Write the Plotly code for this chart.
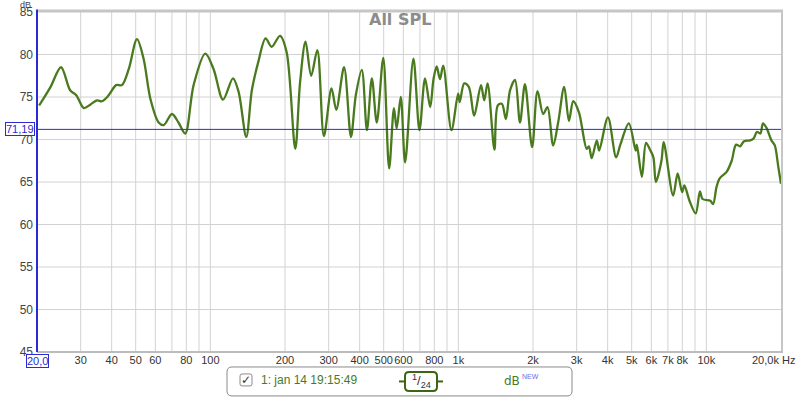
import plotly.graph_objects as go
import math

# ---- data ----
freq_hz = [20.4, 22.6, 25.0, 27.2, 28.8, 30.9, 32.8, 34.9, 36.6, 38.9, 41.7, 44.0, 46.9, 50.6, 53.8,
           57.3, 61.9, 64.9, 70.0, 74.4, 79.2, 85.6, 95.4, 103, 112.5, 123.4, 130, 139.6, 147, 156,
           167, 176.6, 191, 203, 220, 230, 242, 255, 270, 287, 308, 322, 346, 369, 386, 408, 428,
           448, 469, 498, 526, 550, 564, 586, 610, 659, 697, 734, 770, 794, 818, 843, 869, 938,
           998, 1013, 1056, 1102, 1158, 1234, 1272, 1312, 1398, 1442, 1498, 1554, 1617, 1693, 1772,
           1856, 1984, 2086, 2198, 2288, 2412, 2526, 2672, 2792, 2906, 3064, 3292, 3360, 3450, 3616,
           3696, 4010, 4328, 4500, 4870, 5190, 5246, 5498, 5712, 5928, 6116, 6258, 6592, 6728, 7348,
           7662, 7986, 8156, 8550, 9060, 9420, 9652, 10374, 10646, 10990, 11300, 12072, 12652, 13180,
           13672, 14192, 15028, 15496, 15998, 16508, 16920, 17460, 18300, 18880, 19480, 20000]
spl_db = [74.0, 76.1, 78.5, 75.8, 75.2, 73.7, 74.1, 74.6, 74.5, 75.2, 76.4, 76.4, 78.3, 81.8, 79.5,
          74.8, 72.0, 71.7, 73.0, 72.0, 70.7, 76.4, 80.1, 78.3, 74.7, 77.2, 75.6, 70.3, 75.8, 79.1,
          81.9, 80.9, 82.2, 80.3, 68.9, 76.7, 81.5, 77.5, 80.5, 70.4, 76.0, 73.5, 78.5, 70.3, 75.2, 78.2, 71.1,
          77.2, 72.0, 79.6, 66.6, 73.7, 71.3, 75.0, 67.3, 79.5, 71.1, 77.2, 73.8, 77.1, 78.6, 77.1, 78.7, 71.1,
          75.4, 74.4, 76.6, 76.2, 72.8, 76.4, 74.6, 76.6, 68.8, 74.0, 74.2, 72.4, 75.8, 77.0, 72.0,
          76.5, 69.1, 75.7, 73.0, 73.8, 69.3, 72.0, 76.2, 72.2, 74.5, 73.2, 68.9, 69.2, 67.8, 69.9,
          68.7, 72.6, 67.9, 69.4, 71.9, 68.7, 69.4, 65.6, 69.6, 68.8, 67.9, 65.0, 67.5, 69.7, 63.4,
          66.0, 63.8, 64.6, 62.8, 61.3, 63.9, 63.0, 62.8, 62.4, 64.4, 65.4, 66.2, 67.5, 69.4,
          69.2, 69.8, 69.9, 70.1, 70.9, 70.7, 71.9, 71.4, 69.9, 69.3, 66.9, 64.8]
ref_level = 71.19
x_tick_vals = [30, 40, 50, 60, 80, 100, 200, 300, 400, 500, 600, 800, 1000, 2000, 3000, 4000,
               5000, 6000, 7000, 8000, 10000]
x_tick_text = ["30", "40", "50", "60", "80", "100", "200", "300", "400", "500", "600", "800", "1k",
               "2k", "3k", "4k", "5k", "6k", "7k", "8k", "10k"]
x_grid_vals = [30, 40, 50, 60, 70, 80, 90, 100, 200, 300, 400, 500, 600, 700, 800, 900, 1000,
               2000, 3000, 4000, 5000, 6000, 7000, 8000, 9000, 10000]
y_tick_vals = [45, 50, 55, 60, 65, 70, 75, 80, 85]

# ---- geometry helpers (pixels -> paper) ----
L, R, T, B = 37, 781, 11.5, 352.0
W, H = 800, 398
def px(x): return (x - L) / (R - L)
def py(y): return (B - y) / (B - T)

def rrect(x0, y0, x1, y1, r):
    return (f"M {px(x0+r)},{py(y0)} L {px(x1-r)},{py(y0)} Q {px(x1)},{py(y0)} {px(x1)},{py(y0+r)} "
            f"L {px(x1)},{py(y1-r)} Q {px(x1)},{py(y1)} {px(x1-r)},{py(y1)} "
            f"L {px(x0+r)},{py(y1)} Q {px(x0)},{py(y1)} {px(x0)},{py(y1-r)} "
            f"L {px(x0)},{py(y0+r)} Q {px(x0)},{py(y0)} {px(x0+r)},{py(y0)} Z")

GREEN = "#4a7a1e"
BLUE = "#2b2bd6"
FONT = "Liberation Sans"

fig = go.Figure()
fig.add_trace(go.Scatter(x=freq_hz, y=spl_db, mode="lines",
                         line=dict(color=GREEN, width=2.3, shape="spline", smoothing=0.9),
                         hoverinfo="skip", showlegend=False))

shapes = []
for g in x_grid_vals:
    shapes.append(dict(type="line", xref="x", yref="paper", x0=g, x1=g, y0=0, y1=1,
                       line=dict(color="#d2d2d2", width=1), layer="below"))
for g in y_tick_vals[1:-1]:
    shapes.append(dict(type="line", xref="paper", yref="y", x0=0, x1=1, y0=g, y1=g,
                       line=dict(color="#d2d2d2", width=1), layer="below"))
# frame
shapes.append(dict(type="line", xref="paper", yref="paper", x0=0, x1=px(783), y0=py(10.5), y1=py(10.5),
                   line=dict(color="#c6c6c6", width=3)))
shapes.append(dict(type="line", xref="paper", yref="paper", x0=px(782), x1=px(782), y0=0, y1=py(10.5),
                   line=dict(color="#c6c6c6", width=2)))
shapes.append(dict(type="line", xref="paper", yref="paper", x0=0, x1=px(783), y0=0, y1=0,
                   line=dict(color="#bcbcbc", width=2)))
shapes.append(dict(type="line", xref="paper", yref="paper", x0=0, x1=0, y0=0, y1=py(9),
                   line=dict(color=BLUE, width=2)))
shapes.append(dict(type="line", xref="paper", yref="y", x0=0, x1=1, y0=ref_level, y1=ref_level,
                   line=dict(color=BLUE, width=1)))
# legend panel
shapes.append(dict(type="path", xref="paper", yref="paper", path=rrect(227, 367, 572, 396, 5),
                   line=dict(color="#8a8a8a", width=1), fillcolor="white"))
shapes.append(dict(type="path", xref="paper", yref="paper", path=rrect(240, 374, 252, 386, 2),
                   line=dict(color="#8a8a8a", width=1), fillcolor="white"))
shapes.append(dict(type="path", xref="paper", yref="paper", path=rrect(405, 372, 437, 391, 4),
                   line=dict(color="#3d6614", width=2), fillcolor="white"))
shapes.append(dict(type="line", xref="paper", yref="paper", x0=px(399), x1=px(405), y0=py(381.5), y1=py(381.5),
                   line=dict(color="#3d6614", width=2)))
shapes.append(dict(type="line", xref="paper", yref="paper", x0=px(437), x1=px(443), y0=py(381.5), y1=py(381.5),
                   line=dict(color="#3d6614", width=2)))

annotations = [
    dict(text="<b>All SPL</b>", xref="paper", yref="paper", x=px(400), y=py(19), showarrow=False,
         font=dict(family="DejaVu Sans", size=16, color="#8c8c8c"), xanchor="center", yanchor="middle"),
    dict(text="dB", xref="paper", yref="paper", x=px(33), y=py(4.5), showarrow=False,
         font=dict(family=FONT, size=9, color="#444"), xanchor="right", yanchor="middle"),
    dict(text="71,19", xref="paper", yref="y", x=px(35), y=ref_level, showarrow=False,
         font=dict(family=FONT, size=11, color=BLUE), xanchor="right", yanchor="middle",
         bordercolor=BLUE, borderwidth=1, borderpad=0, bgcolor="white"),
    dict(text="20,0", xref="paper", yref="paper", x=px(37), y=py(361), showarrow=False,
         font=dict(family=FONT, size=11, color=BLUE), xanchor="center", yanchor="middle",
         bordercolor=BLUE, borderwidth=1, borderpad=0, bgcolor="white"),
    dict(text="20,0k Hz", xref="paper", yref="paper", x=px(797), y=py(360), showarrow=False,
         font=dict(family=FONT, size=11, color="#333"), xanchor="right", yanchor="middle"),
    dict(text="✓", xref="paper", yref="paper", x=px(246), y=py(380), showarrow=False,
         font=dict(family="DejaVu Sans", size=12, color="#333"), xanchor="center", yanchor="middle"),
    dict(text="1: jan 14 19:15:49", xref="paper", yref="paper", x=px(259), y=py(380.5), showarrow=False,
         font=dict(family=FONT, size=12, color=GREEN), xanchor="left", yanchor="middle"),
    dict(text="<sup>1</sup>/<sub>24</sub>", xref="paper", yref="paper", x=px(421), y=py(381), showarrow=False,
         font=dict(family=FONT, size=13, color="#333"), xanchor="center", yanchor="middle"),
    dict(text="dB", xref="paper", yref="paper", x=px(522), y=py(381), showarrow=False,
         font=dict(family="DejaVu Sans", size=12, color=GREEN), xanchor="right", yanchor="middle"),
    dict(text="NEW", xref="paper", yref="paper", x=px(520), y=py(377), showarrow=False,
         font=dict(family=FONT, size=7, color="#6b6be0"), xanchor="left", yanchor="middle"),
]

fig.update_layout(
    width=W, height=H,
    margin=dict(l=L, r=W - R, t=T, b=H - B, pad=0, autoexpand=False),
    paper_bgcolor="white", plot_bgcolor="white",
    shapes=shapes, annotations=annotations, showlegend=False,
    xaxis=dict(type="log", range=[math.log10(20), math.log10(20000)], showgrid=False, zeroline=False,
               tickmode="array", tickvals=x_tick_vals, ticktext=x_tick_text, ticks="", tickangle=0,
               tickfont=dict(family=FONT, size=11, color="#333"), showline=False, fixedrange=True,
               automargin=False),
    yaxis=dict(range=[45, 85], showgrid=False, zeroline=False, tickmode="array", tickvals=y_tick_vals,
               ticks="", tickfont=dict(family=FONT, size=12, color="#444"), showline=False,
               ticklabelstandoff=3, fixedrange=True, automargin=False),
)

fig.write_html("out.html", config={"displayModeBar": False},
               post_script="document.body.style.margin='0';document.body.style.overflow='hidden';")
